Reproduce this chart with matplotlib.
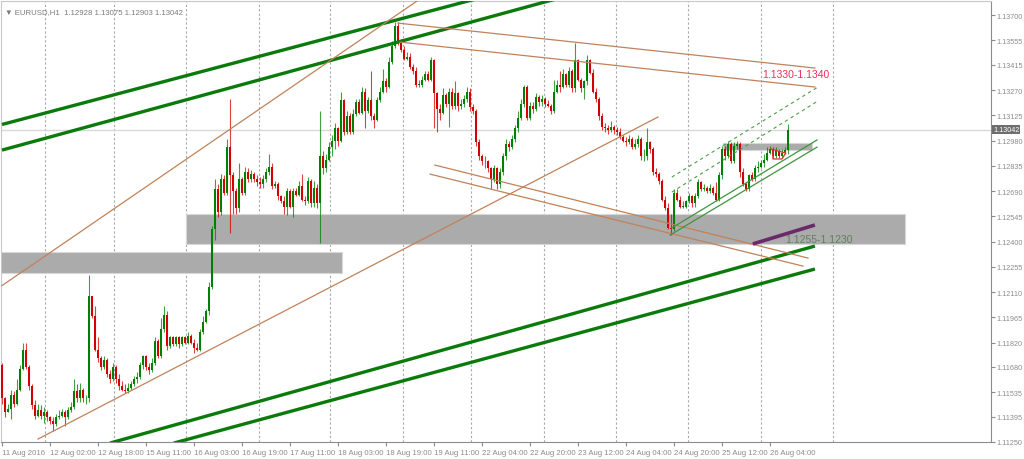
import matplotlib
matplotlib.use("Agg")
import matplotlib.pyplot as plt
from matplotlib.patches import Rectangle

# EURUSD H1 candles, bar 0 = 11 Aug 2016 10:00
first_open = 1.1169
close = [
    1.1150, 1.1142, 1.1144, 1.1152, 1.1147, 1.1155, 1.1167, 1.1178, 1.1168, 1.1157,
    1.1146, 1.1140, 1.1143, 1.1140, 1.1142, 1.1139, 1.1137, 1.1135, 1.1139, 1.1140,
    1.1142, 1.1139, 1.1143, 1.1145, 1.1154, 1.1150, 1.1155, 1.1150, 1.1150, 1.1209,
    1.1197, 1.1178, 1.1173, 1.1168, 1.1172, 1.1164, 1.1161, 1.1168, 1.1161, 1.1157,
    1.1155, 1.1154, 1.1156, 1.1158, 1.1161, 1.1162, 1.1169, 1.1174, 1.1168, 1.1166,
    1.1170, 1.1183, 1.1174, 1.1190, 1.1198, 1.1180, 1.1185, 1.1181, 1.1185, 1.1181,
    1.1185, 1.1182, 1.1186, 1.1182, 1.1179, 1.1178, 1.1188, 1.1194, 1.1200, 1.1214,
    1.1247, 1.1270, 1.1257, 1.1276, 1.1268, 1.1294, 1.1278, 1.1269, 1.1259, 1.1276,
    1.1268, 1.1280, 1.1276, 1.1279, 1.1276, 1.1274, 1.1273, 1.1276, 1.1280, 1.1283,
    1.1272, 1.1273, 1.1266, 1.1263, 1.1260, 1.1269, 1.1260, 1.1269, 1.1267, 1.1272,
    1.1264, 1.1263, 1.1275, 1.1262, 1.1271, 1.1262, 1.1289, 1.1282, 1.1287, 1.1294,
    1.1298, 1.1305, 1.1298, 1.1321, 1.1303, 1.1312, 1.1303, 1.1313, 1.1320, 1.1314,
    1.1326, 1.1315, 1.1321, 1.1312, 1.1310, 1.1321, 1.1326, 1.1332, 1.1329, 1.1343,
    1.1352, 1.1364, 1.1354, 1.1350, 1.1345, 1.1346, 1.1340, 1.1338, 1.1330, 1.1330,
    1.1333, 1.1336, 1.1333, 1.1344, 1.1325, 1.1316, 1.1314, 1.1324, 1.1319, 1.1326,
    1.1318, 1.1325, 1.1318, 1.1319, 1.1322, 1.1326, 1.1317, 1.1315, 1.1297, 1.1289,
    1.1286, 1.1286, 1.1282, 1.1276, 1.1282, 1.1273, 1.1280, 1.1289, 1.1296, 1.1294,
    1.1299, 1.1305, 1.1311, 1.1319, 1.1329, 1.1311, 1.1318, 1.1316, 1.1323, 1.1320,
    1.1322, 1.1319, 1.1318, 1.1315, 1.1326, 1.1330, 1.1329, 1.1336, 1.1330, 1.1338,
    1.1328, 1.1344, 1.1333, 1.1328, 1.1332, 1.1344, 1.1337, 1.1326, 1.1322, 1.1312,
    1.1306, 1.1305, 1.1304, 1.1306, 1.1304, 1.1303, 1.1300, 1.1298, 1.1297, 1.1299,
    1.1294, 1.1296, 1.1299, 1.1289, 1.1289, 1.1297, 1.1293, 1.1280, 1.1279, 1.1275,
    1.1264, 1.1259, 1.1248, 1.1247, 1.1268, 1.1264, 1.1260, 1.1260, 1.1263, 1.1266,
    1.1262, 1.1266, 1.1274, 1.1270, 1.1271, 1.1269, 1.1271, 1.1268, 1.1264, 1.1278,
    1.1293, 1.1289, 1.1296, 1.1286, 1.1295, 1.1296, 1.1280, 1.1273, 1.1270, 1.1278,
    1.1276, 1.1282, 1.1283, 1.1285, 1.1287, 1.1291, 1.1293, 1.1289, 1.1292, 1.1289,
    1.1291, 1.12928, 1.13042,
]
high = [
    1.1170, 1.1151, 1.1147, 1.1155, 1.1154, 1.1161, 1.1169, 1.1182, 1.1182, 1.1169,
    1.1158, 1.1149, 1.1147, 1.1146, 1.1145, 1.1143, 1.1140, 1.1139, 1.1141, 1.1143,
    1.1144, 1.1143, 1.1145, 1.1148, 1.1161, 1.1158, 1.1159, 1.1156, 1.1152, 1.1221,
    1.1209, 1.1203, 1.1185, 1.1174, 1.1174, 1.1173, 1.1166, 1.1170, 1.1169, 1.1164,
    1.1160, 1.1158, 1.1159, 1.1160, 1.1163, 1.1165, 1.1171, 1.1175, 1.1175, 1.1170,
    1.1173, 1.1185, 1.1184, 1.1196, 1.1203, 1.1200, 1.1186, 1.1186, 1.1186, 1.1186,
    1.1186, 1.1186, 1.1188, 1.1187, 1.1184, 1.1182, 1.1190, 1.1197, 1.1201, 1.1217,
    1.1249, 1.1276, 1.1273, 1.1279, 1.1278, 1.1299, 1.1322, 1.1280, 1.1271, 1.1285,
    1.1277, 1.1283, 1.1282, 1.1281, 1.1280, 1.1278, 1.1277, 1.1278, 1.1282, 1.1290,
    1.1285, 1.1275, 1.1274, 1.1267, 1.1266, 1.1271, 1.1270, 1.1271, 1.1271, 1.1275,
    1.1279, 1.1266, 1.1277, 1.1276, 1.1275, 1.1273, 1.1315, 1.1292, 1.1290, 1.1297,
    1.1301, 1.1308, 1.1306, 1.1326, 1.1322, 1.1315, 1.1314, 1.1316, 1.1322, 1.1322,
    1.1329, 1.1328, 1.1323, 1.1338, 1.1314, 1.1323, 1.1329, 1.1339, 1.1334, 1.1346,
    1.1355, 1.1366, 1.1366, 1.1356, 1.1352, 1.1349, 1.1348, 1.1342, 1.1340, 1.1333,
    1.1335, 1.1338, 1.1338, 1.1346, 1.1345, 1.1326, 1.1319, 1.1328, 1.1325, 1.1328,
    1.1328, 1.1332, 1.1326, 1.1322, 1.1324, 1.1329, 1.1328, 1.1319, 1.1316, 1.1299,
    1.1290, 1.1289, 1.1287, 1.1283, 1.1284, 1.1283, 1.1282, 1.1291, 1.1299, 1.1298,
    1.1301, 1.1307, 1.1315, 1.1322, 1.1330, 1.1330, 1.1320, 1.1320, 1.1325, 1.1324,
    1.1324, 1.1323, 1.1321, 1.1319, 1.1333, 1.1333, 1.1338, 1.1339, 1.1337, 1.1340,
    1.1339, 1.1354, 1.1345, 1.1334, 1.1333, 1.1347, 1.1345, 1.1339, 1.1328, 1.1323,
    1.1314, 1.1308, 1.1307, 1.1309, 1.1307, 1.1306, 1.1305, 1.1301, 1.1300, 1.1301,
    1.1300, 1.1299, 1.1301, 1.1300, 1.1293, 1.1305, 1.1298, 1.1294, 1.1282, 1.1280,
    1.1276, 1.1266, 1.1262, 1.1256, 1.1270, 1.1270, 1.1266, 1.1263, 1.1264, 1.1268,
    1.1267, 1.1268, 1.1276, 1.1275, 1.1273, 1.1272, 1.1273, 1.1272, 1.1274, 1.1280,
    1.1295, 1.1295, 1.1298, 1.1297, 1.1297, 1.1298, 1.1297, 1.1282, 1.1274, 1.1279,
    1.1280, 1.1284, 1.1286, 1.1287, 1.1290, 1.1294, 1.1295, 1.1294, 1.1294, 1.1293,
    1.1293, 1.1294, 1.13075,
]
low = [
    1.1147, 1.1139, 1.1142, 1.1138, 1.1145, 1.1146, 1.1154, 1.1166, 1.1167, 1.1155,
    1.1144, 1.1138, 1.1139, 1.1138, 1.1136, 1.1137, 1.1135, 1.1131, 1.1134, 1.1138,
    1.1139, 1.1134, 1.1138, 1.1142, 1.1144, 1.1148, 1.1148, 1.1148, 1.1147, 1.1148,
    1.1196, 1.1177, 1.1171, 1.1166, 1.1167, 1.1162, 1.1159, 1.1160, 1.1159, 1.1155,
    1.1154, 1.1153, 1.1153, 1.1155, 1.1157, 1.1159, 1.1161, 1.1167, 1.1166, 1.1164,
    1.1165, 1.1169, 1.1173, 1.1173, 1.1188, 1.1178, 1.1179, 1.1180, 1.1180, 1.1179,
    1.1180, 1.1181, 1.1181, 1.1181, 1.1176, 1.1177, 1.1177, 1.1187, 1.1193, 1.1198,
    1.1213, 1.1241, 1.1254, 1.1255, 1.1267, 1.1267, 1.1245, 1.1256, 1.1256, 1.1257,
    1.1267, 1.1267, 1.1274, 1.1274, 1.1274, 1.1272, 1.1271, 1.1271, 1.1274, 1.1278,
    1.1270, 1.1271, 1.1264, 1.1262, 1.1256, 1.1255, 1.1259, 1.1254, 1.1266, 1.1266,
    1.1263, 1.1261, 1.1262, 1.1260, 1.1260, 1.1259, 1.1239, 1.1279, 1.1280, 1.1286,
    1.1289, 1.1293, 1.1295, 1.1297, 1.1301, 1.1302, 1.1302, 1.1302, 1.1312, 1.1313,
    1.1313, 1.1305, 1.1314, 1.1310, 1.1305, 1.1309, 1.1320, 1.1325, 1.1326, 1.1328,
    1.1342, 1.1351, 1.1353, 1.1349, 1.1344, 1.1344, 1.1339, 1.1336, 1.1329, 1.1329,
    1.1329, 1.1332, 1.1332, 1.1332, 1.1305, 1.1303, 1.1310, 1.1313, 1.1317, 1.1306,
    1.1316, 1.1316, 1.1315, 1.1316, 1.1317, 1.1320, 1.1315, 1.1313, 1.1295, 1.1287,
    1.1284, 1.1282, 1.1280, 1.1270, 1.1274, 1.1270, 1.1271, 1.1278, 1.1287, 1.1292,
    1.1293, 1.1297, 1.1303, 1.1310, 1.1317, 1.1310, 1.1310, 1.1314, 1.1315, 1.1318,
    1.1318, 1.1317, 1.1317, 1.1313, 1.1314, 1.1325, 1.1326, 1.1328, 1.1329, 1.1329,
    1.1326, 1.1326, 1.1332, 1.1326, 1.1322, 1.1330, 1.1336, 1.1325, 1.1320, 1.1310,
    1.1304, 1.1303, 1.1302, 1.1303, 1.1302, 1.1301, 1.1299, 1.1297, 1.1295, 1.1296,
    1.1293, 1.1293, 1.1294, 1.1287, 1.1286, 1.1287, 1.1291, 1.1278, 1.1277, 1.1273,
    1.1263, 1.1258, 1.1247, 1.1244, 1.1246, 1.1263, 1.1259, 1.1259, 1.1259, 1.1262,
    1.1260, 1.1260, 1.1265, 1.1269, 1.1269, 1.1268, 1.1268, 1.1267, 1.1263, 1.1263,
    1.1276, 1.1287, 1.1288, 1.1285, 1.1285, 1.1293, 1.1277, 1.1272, 1.1269, 1.1269,
    1.1275, 1.1275, 1.1280, 1.1282, 1.1283, 1.1286, 1.1290, 1.1288, 1.1288, 1.1288,
    1.1288, 1.1290, 1.12903,
]

y_ticks = [1.13700, 1.13555, 1.13415, 1.13270, 1.13125, 1.12980, 1.12835, 1.12690, 1.12545,
           1.12400, 1.12255, 1.12110, 1.11965, 1.11820, 1.11680, 1.11535, 1.11395, 1.11250]
x_labels = ["11 Aug 2016", "12 Aug 02:00", "12 Aug 18:00", "15 Aug 11:00", "16 Aug 03:00",
            "16 Aug 19:00", "17 Aug 11:00", "18 Aug 03:00", "18 Aug 19:00", "19 Aug 11:00",
            "22 Aug 04:00", "22 Aug 20:00", "23 Aug 12:00", "24 Aug 04:00", "24 Aug 20:00",
            "25 Aug 12:00", "26 Aug 04:00"]
x_label_bars = [16 * i for i in range(len(x_labels))]
grid_bars = [14.2, 37.3, 61.3, 85.6, 109.3, 133.6, 156.3, 180.7, 204.8, 228.7, 253.0, 277.0]
last_price = 1.13042

# analysis objects drawn on the chart, as (bar, price) anchors
thick_green = [[(0, 1.13072), (160, 1.13802)], [(0, 1.12925), (186, 1.13799)],
               [(36, 1.11243), (271, 1.12374)], [(57.3, 1.11243), (271, 1.12242)]]
brown_lines = [[(0, 1.12147), (139.3, 1.13792)], [(12, 1.11266), (218.7, 1.13115)],
               [(132, 1.13654), (271, 1.13396)], [(132.7, 1.13545), (271, 1.13287)],
               [(144.3, 1.12839), (268.7, 1.12305)], [(142.7, 1.12787), (267, 1.12259)]]
channel_solid = [[(222.7, 1.12437), (271.7, 1.12942)], [(223.3, 1.12478), (271.7, 1.12983)]]
channel_dash = [[(223.3, 1.12770), (272, 1.13287)], [(223.3, 1.12684), (272, 1.13207)]]
purple_line = [(250.3, 1.12386), (271, 1.12495)]
pennant = [(256.3, 1.12931), (261.3, 1.12908), (260, 1.12874), (257, 1.12874), (257, 1.12919)]
# zones: (bar_left, bar_right, price_low, price_high)
zones = [(61.3, 301, 1.12386, 1.12558), (-1, 113.3, 1.12219, 1.12340), (240.3, 270, 1.12925, 1.12965)]

GREEN = "#008000"
RED = "#d40000"
TXT = "#8c8c8c"
FONT = "Liberation Sans"

fig = plt.figure(figsize=(10.24, 4.6), dpi=100)
ax = fig.add_axes([1 / 1024, 17 / 460, 990 / 1024, 441 / 460])
ax.set_xlim(-0.33, 329.7)
ax.set_ylim(1.11249, 1.13781)

for b in grid_bars:
    ax.axvline(b, color="#a8a8a8", lw=0.8, ls=(0, (2, 2)), zorder=1)

for x0, x1, p0, p1 in zones:
    ax.add_patch(Rectangle((x0, p0), x1 - x0, p1 - p0, facecolor="#ababab",
                           edgecolor="#d8d8d8", lw=0.8, zorder=2))

ax.axhline(last_price, color="#d9d9d9", lw=1, zorder=2)

opens = [first_open] + close[:-1]
xs = list(range(len(close)))
cols = [GREEN if c >= o else RED for o, c in zip(opens, close)]
ax.vlines(xs, low, high, colors=cols, lw=0.8, alpha=0.75, zorder=4)
bottoms = [min(o, c) for o, c in zip(opens, close)]
heights = [max(abs(c - o), 0.00003) for o, c in zip(opens, close)]
ax.bar(xs, heights, bottom=bottoms, width=0.7, color=cols, lw=0, zorder=5)

for seg in thick_green:
    ax.plot(*zip(*seg), color="#0a7a0a", lw=2.4, solid_capstyle="butt", zorder=6)
for seg in brown_lines:
    ax.plot(*zip(*seg), color="#c0825a", lw=0.9, zorder=6)
for seg in channel_solid:
    ax.plot(*zip(*seg), color="#3c963c", lw=0.9, zorder=6)
for seg in channel_dash:
    ax.plot(*zip(*seg), color="#4aa04a", lw=0.8, ls=(0, (3, 3)), zorder=6)
ax.plot(*zip(*purple_line), color="#6a2a6a", lw=2.6, solid_capstyle="butt", zorder=7)
ax.plot(*zip(*pennant), color="#e03030", lw=0.9, zorder=7)

ax.text(253.3, 1.13362, "1.1330-1.1340", color="#e8305a", fontsize=7.5, family=FONT,
        va="center", ha="left", zorder=8)
ax.text(261, 1.12414, "1.1255-1.1230", color="#5f805f", fontsize=7.5, family=FONT,
        va="center", ha="left", zorder=8)

# axes styling
for side in ["left", "top"]:
    ax.spines[side].set_color("#c8c8c8")
ax.spines["right"].set_color("#8c8c8c")
ax.spines["bottom"].set_color("#8c8c8c")
ax.yaxis.tick_right()
ax.set_yticks(y_ticks)
ax.set_yticklabels([f"{v:.5f}" for v in y_ticks])
ax.set_xticks(x_label_bars)
ax.set_xticklabels(x_labels, ha="left")
ax.tick_params(axis="x", colors="#8c8c8c", length=3, width=0.8, labelsize=5.6, pad=2)
ax.tick_params(axis="y", colors="#8c8c8c", length=3, width=0.8, labelsize=5.2, pad=1)
for lab in ax.get_xticklabels() + ax.get_yticklabels():
    lab.set_family(FONT)
    lab.set_color(TXT)

# current price tag on the price scale
ax.text(1.002, last_price, f"{last_price:.5f}", transform=ax.get_yaxis_transform(),
        fontsize=5.2, family=FONT, color="white", va="center", ha="left",
        bbox=dict(boxstyle="square,pad=0.15", fc="#6e6e6e", ec="none"), zorder=9)

ax.text(0.004, 0.985, "\u25BC EURUSD,H1  1.12928 1.13075 1.12903 1.13042",
        transform=ax.transAxes, fontsize=5.6, family=["Liberation Sans", "DejaVu Sans"],
        color="#7a7a7a", va="top", ha="left")

fig.savefig("out.png", dpi=100, facecolor="white")
